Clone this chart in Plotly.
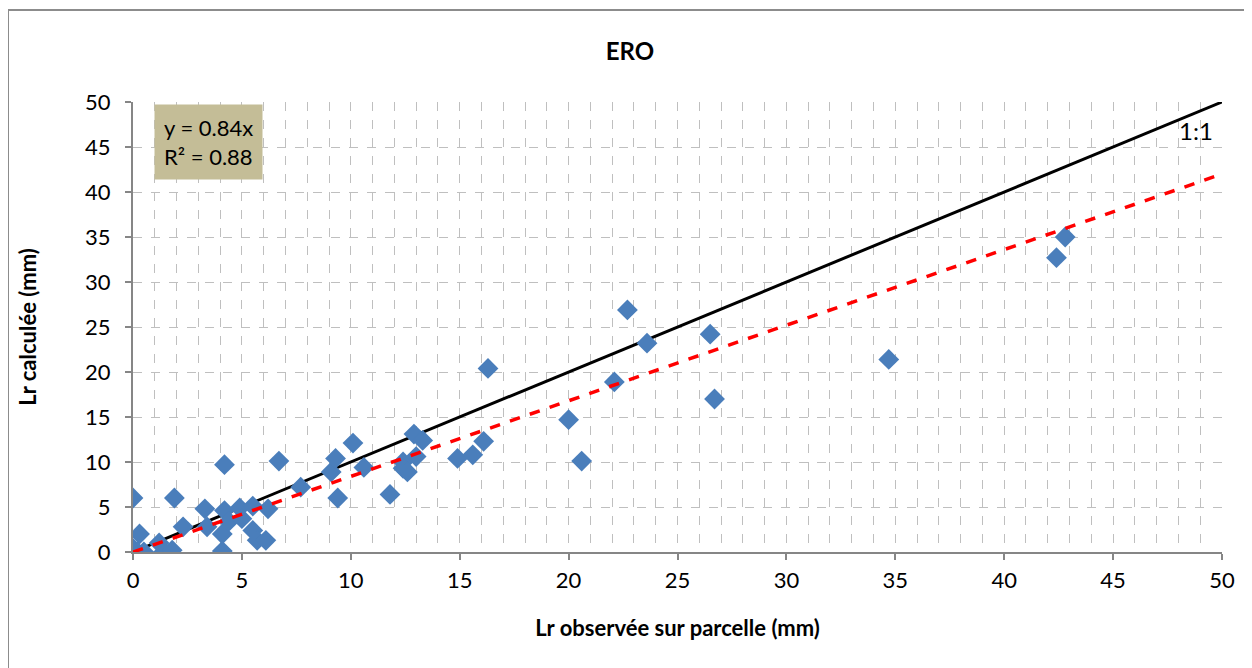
import plotly.graph_objects as go

# Observed vs calculated runoff (mm)
lr_observed = [0.0, 0.0, 0.3, 0.0, 0.2, 0.5, 1.2, 1.4, 1.8, 1.9, 2.3, 3.3, 3.4, 4.1, 4.1,
               4.2, 4.2, 4.4, 4.9, 5.0, 5.5, 5.5, 5.7, 6.1, 6.2, 6.7, 7.7, 9.1, 9.3, 9.4,
               10.1, 10.6, 11.8, 12.4, 12.4, 12.6, 12.9, 13.0, 13.3, 14.9, 15.6, 16.1,
               16.3, 20.0, 20.6, 22.1, 22.7, 23.6, 26.5, 26.7, 34.7, 42.4, 42.8]
lr_calculated = [0.0, 6.0, 2.0, 0.4, 0.0, 0.0, 1.0, 0.0, 0.2, 6.0, 2.8, 4.8, 2.8, 0.1, 2.0,
                 4.6, 9.7, 3.4, 4.9, 3.7, 5.1, 2.4, 1.3, 1.3, 4.8, 10.1, 7.2, 8.9, 10.4, 6.0,
                 12.1, 9.4, 6.4, 10.0, 9.3, 8.9, 13.1, 10.6, 12.4, 10.4, 10.8, 12.3,
                 20.4, 14.7, 10.1, 18.9, 26.9, 23.2, 24.2, 17.0, 21.4, 32.7, 35.0]

line_x = [0, 50]
slope = 0.84
one_to_one_y = [0, 50]
trend_y = [slope * v for v in line_x]

tick_vals = [0, 5, 10, 15, 20, 25, 30, 35, 40, 45, 50]

font_family = "Lato, 'Open Sans', sans-serif"

W, H = 1244, 660
L, T, PW, PH = 125, 94, 1089, 450
R = W - L - PW
B = H - T - PH

def px(fx):
    return (fx - L) / PW

def py(fy):
    return (T + PH - fy) / PH

fig = go.Figure()
fig.add_trace(go.Scatter(x=line_x, y=one_to_one_y, mode="lines",
                         line=dict(color="black", width=3), showlegend=False,
                         hoverinfo="skip"))
fig.add_trace(go.Scatter(x=lr_observed, y=lr_calculated, mode="markers",
                         marker=dict(symbol="diamond", size=16, color="#4a7ebb",
                                     line=dict(width=0)),
                         showlegend=False))
fig.add_trace(go.Scatter(x=line_x, y=trend_y, mode="lines",
                         line=dict(color="#ff0000", width=3.5, dash="dash"),
                         showlegend=False, hoverinfo="skip"))

grid_style = dict(gridcolor="#bfbfbf", griddash="dash", gridwidth=1.3)

fig.update_layout(
    width=W, height=H,
    margin=dict(l=L, r=R, t=T, b=B),
    paper_bgcolor="white", plot_bgcolor="white",
    font=dict(family=font_family, color="black", size=21),
    title=dict(text="<b>ERO</b>", x=0.5, xanchor="center", y=1 - 44 / H, yanchor="middle",
               font=dict(size=24, family=font_family)),
    xaxis=dict(range=[0, 50], tickvals=tick_vals, showline=True, linecolor="#868686",
               linewidth=2, ticks="outside", ticklen=6, tickcolor="#868686", tickwidth=2,
               showgrid=True, zeroline=False, ticklabelstandoff=2,
               minor=dict(dtick=1, showgrid=True, gridcolor="#bfbfbf", griddash="dash",
                          gridwidth=1.3),
               title=dict(text="<b>Lr observée sur parcelle (mm)</b>", standoff=28,
                          font=dict(size=22)),
               tickfont=dict(size=22), **grid_style),
    yaxis=dict(range=[0, 50], tickvals=tick_vals, showline=True, linecolor="#868686",
               linewidth=2, ticks="outside", ticklen=6, tickcolor="#868686", tickwidth=2,
               showgrid=True, zeroline=False, ticklabelstandoff=10,
               title=dict(text="<b>Lr calculée (mm)</b>", standoff=42,
                          font=dict(size=22)),
               tickfont=dict(size=22), **grid_style),
    shapes=[dict(type="rect", xref="paper", yref="paper",
                 x0=px(0), x1=px(W + 20),
                 y0=py(H + 20), y1=py(2),
                 line=dict(color="#8c8c8c", width=2), fillcolor="rgba(0,0,0,0)",
                 layer="below")],
    annotations=[
        dict(text="y = 0.84x<br>R² = 0.88", xref="paper", yref="paper",
             x=px(146), y=py(96), xanchor="left", yanchor="top",
             showarrow=False, bgcolor="#c4bd97", align="left",
             font=dict(size=22, family=font_family), borderpad=9),
        dict(text="1:1", x=49.7, y=46.8, xref="x", yref="y", xanchor="right",
             yanchor="middle", showarrow=False, font=dict(size=24, family=font_family)),
    ],
)

fig.write_html("out.html")
